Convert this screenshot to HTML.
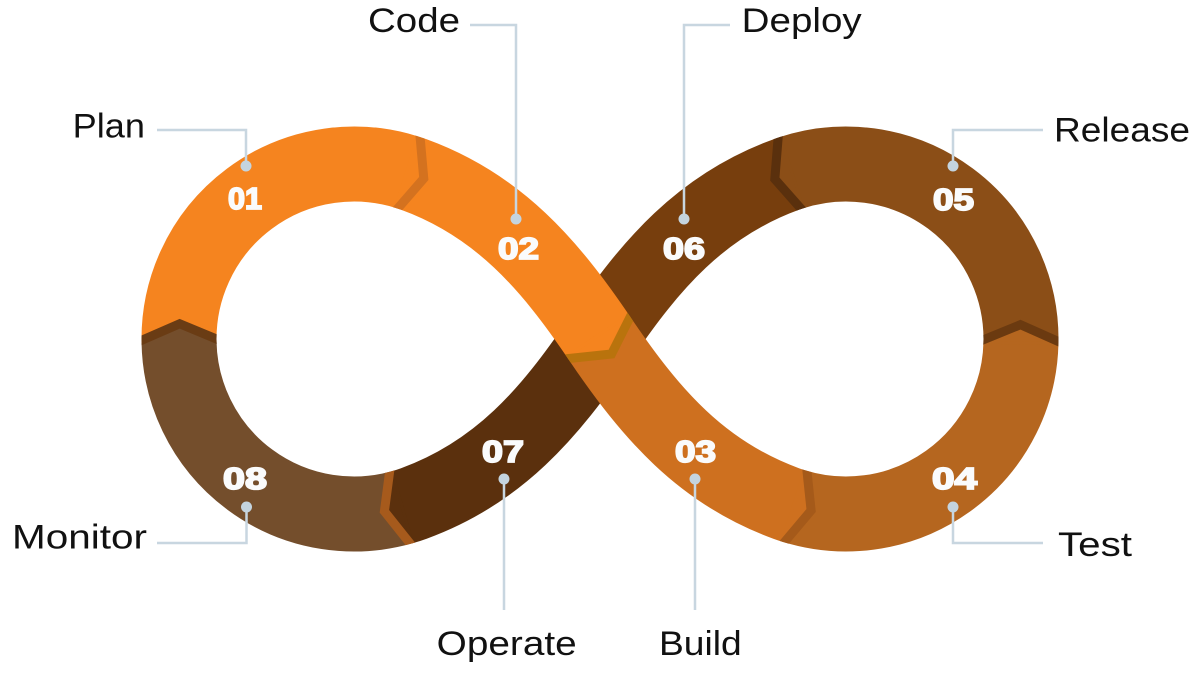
<!DOCTYPE html>
<html>
<head>
<meta charset="utf-8">
<style>
html,body{margin:0;padding:0;background:#ffffff;}
svg{display:block;}
.lbl{font-family:"Liberation Sans",Arial,sans-serif;font-size:34.5px;fill:#111111;}
.num{font-family:"Liberation Sans",Arial,sans-serif;font-size:31px;font-weight:bold;fill:#FAFBFC;stroke:#FAFBFC;stroke-width:1.8px;}
</style>
</head>
<body>
<svg width="1200" height="677" viewBox="0 0 1200 677" xmlns="http://www.w3.org/2000/svg">
  <defs>
    <mask id="mFull" maskUnits="userSpaceOnUse" x="0" y="0" width="1200" height="677">
      <rect x="0" y="0" width="1200" height="677" fill="black"/>
      <path d="M600,339 C549.7,413.6 498.4,472.7 413.85,503.45 A175 175 0 1 1 413.85,174.55 C498.4,205.3 549.7,264.4 600,339 C650.3,413.6 701.6,472.7 786.15,503.45 A175 175 0 1 0 786.15,174.55 C701.6,205.3 650.3,264.4 600,339 Z" fill="none" stroke="white" stroke-width="75"/>
    </mask>
    <mask id="mDiag" maskUnits="userSpaceOnUse" x="0" y="0" width="1200" height="677">
      <rect x="0" y="0" width="1200" height="677" fill="black"/>
      <path d="M413.85,174.55 C498.4,205.3 549.7,264.4 600,339 C650.3,413.6 701.6,472.7 786.15,503.45" fill="none" stroke="white" stroke-width="75"/>
    </mask>
  </defs>

  <g fill="none" stroke-width="75" stroke-linecap="butt">
    <!-- 06 -->
    <path d="M791.92,172.56 A175 175 0 0 0 786.15,174.55 C701.6,205.3 650.3,264.4 600,339" stroke="#773E0D"/>
    <!-- 07 -->
    <path d="M600,339 C549.7,413.6 498.4,472.7 413.85,503.45 A175 175 0 0 1 402.24,507.22" stroke="#5B300D"/>
    <!-- 04 -->
    <path d="M793.38,505.90 A175 175 0 0 0 1020.95,342.97" stroke="#B5661F"/>
    <!-- 05 -->
    <path d="M1020.95,342.97 A175 175 0 0 0 791.92,172.56" stroke="#8B4E17"/>
    <!-- 08 -->
    <path d="M402.24,507.22 A175 175 0 0 1 179.03,342.05" stroke="#744E2C"/>
    <!-- 01 -->
    <path d="M179.03,342.05 A175 175 0 0 1 406.62,172.10" stroke="#F5841F"/>
    <!-- 02 -->
    <path d="M406.62,172.10 A175 175 0 0 1 413.85,174.55 C498.4,205.3 549.7,264.4 600,339" stroke="#F5841F"/>
    <!-- 03 -->
    <path d="M600,339 C650.3,413.6 701.6,472.7 786.15,503.45 A175 175 0 0 0 793.38,505.90" stroke="#CE701F"/>
  </g>

  <!-- dividers on loops -->
  <g mask="url(#mFull)" stroke-linejoin="miter" fill="none">
    <!-- 07/08 -->
    <polygon points="414.09,548.55 384.39,511.34 390.38,465.89" fill="#5B300D" stroke="#5B300D" stroke-width="3"/>
    <polyline points="414.09,548.55 384.39,511.34 390.38,465.89" stroke="#A65A1C" stroke-width="9"/>
    <!-- 08/01 -->
    <polygon points="136.03,342.80 179.67,323.75 222.02,341.30" fill="#744E2C" stroke="#744E2C" stroke-width="3"/>
    <polyline points="136.03,342.80 179.67,323.75 222.02,341.30" stroke="#6A3C14" stroke-width="9"/>
    <!-- 01/02 -->
    <polygon points="419.56,131.09 423.78,178.51 393.69,213.11" fill="#F5841F" stroke="#F5841F" stroke-width="3"/>
    <polyline points="419.56,131.09 423.78,178.51 393.69,213.11" stroke="#D4721F" stroke-width="9"/>
    <!-- 03/04 -->
    <polygon points="780.44,546.91 811.11,510.49 806.31,464.89" fill="#CE701F" stroke="#CE701F" stroke-width="3"/>
    <polyline points="780.44,546.91 811.11,510.49 806.31,464.89" stroke="#A55A1A" stroke-width="9"/>
    <!-- 04/05 -->
    <polygon points="1063.94,343.95 1020.41,324.66 977.97,341.99" fill="#B5661F" stroke="#B5661F" stroke-width="3"/>
    <polyline points="1063.94,343.95 1020.41,324.66 977.97,341.99" stroke="#6B3A10" stroke-width="9"/>
    <!-- 05/06 -->
    <polygon points="778.63,131.67 774.82,179.13 805.21,213.46" fill="#8B4E17" stroke="#8B4E17" stroke-width="3"/>
    <polyline points="778.63,131.67 774.82,179.13 805.21,213.46" stroke="#5A300D" stroke-width="9"/>
  </g>

  <!-- 02/03 divider at crossing -->
  <g mask="url(#mDiag)" stroke-linejoin="miter" fill="none">
    <polygon points="632.58,312.2 611.5,354 562.94,359.16" fill="#F5841F" stroke="#F5841F" stroke-width="3"/>
    <polyline points="632.58,312.2 611.5,354 562.94,359.16" stroke="#B9730D" stroke-width="9"/>
  </g>

  <!-- leader lines -->
  <g fill="none" stroke="#C8D6E0" stroke-width="2.5">
    <polyline points="157,130 246,130 246,166"/>
    <polyline points="470,25 516,25 516,219"/>
    <polyline points="730,25 684,25 684,219"/>
    <polyline points="1043,130 953,130 953,166"/>
    <polyline points="157,543 246.5,543 246.5,507"/>
    <polyline points="1043,543 953,543 953,507"/>
    <polyline points="504,479 504,610"/>
    <polyline points="695,479 695,610"/>
  </g>
  <g fill="#C4D4DF">
    <circle cx="246" cy="166" r="5.5"/>
    <circle cx="516" cy="219" r="5.5"/>
    <circle cx="684" cy="219" r="5.5"/>
    <circle cx="953" cy="166" r="5.5"/>
    <circle cx="246.5" cy="507" r="5.5"/>
    <circle cx="953" cy="507" r="5.5"/>
    <circle cx="504" cy="479" r="5.5"/>
    <circle cx="695" cy="479" r="5.5"/>
  </g>

  <!-- numbers -->
  <text class="num" x="228" y="209" textLength="34" lengthAdjust="spacingAndGlyphs">01</text>
  <text class="num" x="498" y="259" textLength="41" lengthAdjust="spacingAndGlyphs">02</text>
  <text class="num" x="675" y="462" textLength="41" lengthAdjust="spacingAndGlyphs">03</text>
  <text class="num" x="932" y="489" textLength="45" lengthAdjust="spacingAndGlyphs">04</text>
  <text class="num" x="933" y="210" textLength="41" lengthAdjust="spacingAndGlyphs">05</text>
  <text class="num" x="663" y="259" textLength="42" lengthAdjust="spacingAndGlyphs">06</text>
  <text class="num" x="482" y="462" textLength="42" lengthAdjust="spacingAndGlyphs">07</text>
  <text class="num" x="223" y="489" textLength="44" lengthAdjust="spacingAndGlyphs">08</text>

  <!-- labels -->
  <text class="lbl" x="72.7" y="137.3" textLength="72.3" lengthAdjust="spacingAndGlyphs">Plan</text>
  <text class="lbl" x="368" y="32" textLength="92" lengthAdjust="spacingAndGlyphs">Code</text>
  <text class="lbl" x="741.7" y="32" textLength="120" lengthAdjust="spacingAndGlyphs">Deploy</text>
  <text class="lbl" x="1054" y="141.5" textLength="136" lengthAdjust="spacingAndGlyphs">Release</text>
  <text class="lbl" x="12" y="548.3" textLength="135" lengthAdjust="spacingAndGlyphs">Monitor</text>
  <text class="lbl" x="1058" y="556" textLength="74" lengthAdjust="spacingAndGlyphs">Test</text>
  <text class="lbl" x="436.7" y="655" textLength="140" lengthAdjust="spacingAndGlyphs">Operate</text>
  <text class="lbl" x="659" y="655" textLength="82.7" lengthAdjust="spacingAndGlyphs">Build</text>
</svg>
</body>
</html>
